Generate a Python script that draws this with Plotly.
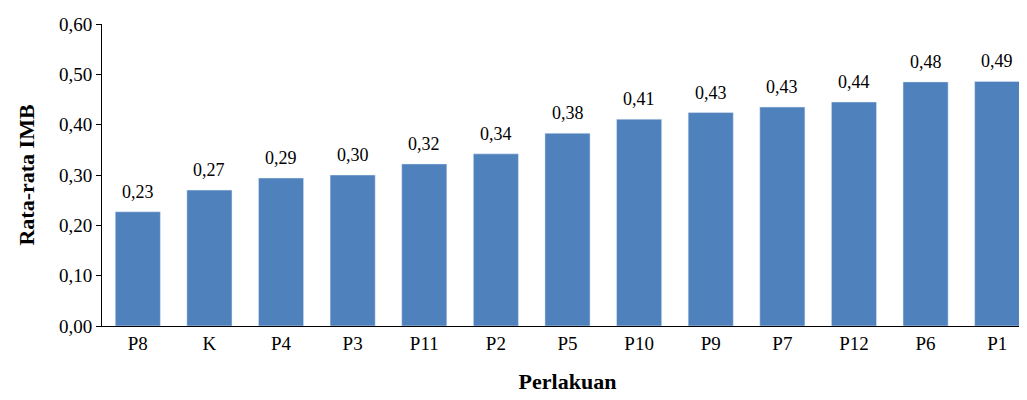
import plotly.graph_objects as go

perlakuan = ["P8", "K", "P4", "P3", "P11", "P2", "P5", "P10", "P9", "P7", "P12", "P6", "P1"]
imb = [0.227, 0.270, 0.294, 0.300, 0.322, 0.342, 0.383, 0.411, 0.424, 0.435, 0.445, 0.485, 0.486]
labels = ["0,23", "0,27", "0,29", "0,30", "0,32", "0,34", "0,38", "0,41", "0,43", "0,43", "0,44", "0,48", "0,49"]
yticks = [0.0, 0.1, 0.2, 0.3, 0.4, 0.5, 0.6]

fig = go.Figure()
fig.add_trace(go.Bar(x=perlakuan, y=imb, marker_color="#4F81BD"))

# value labels above bars
for p, v, t in zip(perlakuan, imb, labels):
    fig.add_annotation(x=p, y=v, text=t, showarrow=False, yanchor="bottom",
                       yshift=8, font=dict(size=18, color="black"))

fig.update_layout(
    width=1027, height=400,
    margin=dict(l=94, r=2, t=16, b=82),
    plot_bgcolor="white", paper_bgcolor="white",
    font=dict(family="Liberation Serif", size=19, color="black"),
    bargap=0.37, showlegend=False,
)
fig.update_xaxes(showline=True, linecolor="black", linewidth=1,
                 title=dict(text="<b>Perlakuan</b>", font=dict(size=22), standoff=20),
                 ticks="", tickfont=dict(size=19))
fig.update_yaxes(range=[0, 0.6], tickvals=yticks,
                 ticktext=[f"{v:.2f}".replace(".", ",") for v in yticks],
                 showline=True, linecolor="black", linewidth=1, showgrid=False,
                 ticks="outside", ticklen=5, tickcolor="black",
                 tickfont=dict(size=19),
                 title=dict(text="<b>Rata-rata IMB</b>", font=dict(size=22), standoff=18))

fig.write_html("out.html")
